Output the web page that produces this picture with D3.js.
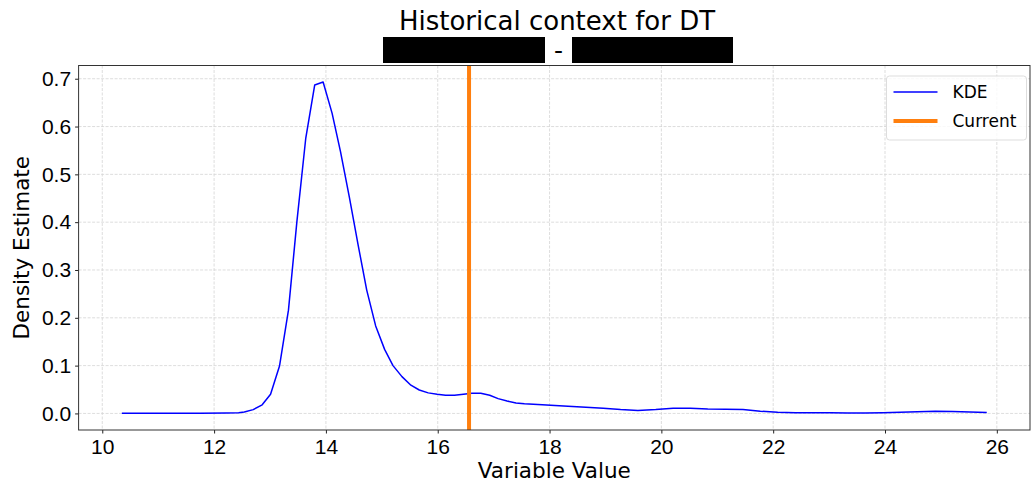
<!DOCTYPE html>
<html>
<head>
<meta charset="utf-8">
<script src="https://cdn.jsdelivr.net/npm/d3@7"></script>
<style>
  body { margin: 0; background: #fff; }
  svg { display: block; font-family: "DejaVu Sans", sans-serif; }
</style>
</head>
<body>
<svg id="chart"></svg>
<script>
// KDE curve
const kdeX = [10.35, 10.82, 11.28, 11.75, 12.22, 12.44, 12.54, 12.70, 12.86, 13.01, 13.17, 13.33, 13.48, 13.64, 13.80, 13.95,
  14.11, 14.26, 14.42, 14.58, 14.73, 14.89, 15.05, 15.20, 15.36, 15.52, 15.67, 15.83, 15.99, 16.14, 16.30, 16.46,
  16.61, 16.77, 16.93, 17.08, 17.24, 17.40, 17.55, 17.71, 17.87, 18.02, 18.33, 18.65, 18.96, 19.27, 19.58, 19.90,
  20.21, 20.52, 20.83, 21.15, 21.46, 21.77, 22.08, 22.40, 22.71, 23.02, 23.33, 23.65, 23.96, 24.27, 24.58, 24.90,
  25.21, 25.52, 25.82];
const kdeY = [0.0005, 0.0003, 0.0003, 0.0004, 0.0008, 0.0012, 0.003, 0.008, 0.018, 0.040, 0.099, 0.216, 0.400, 0.576, 0.687, 0.693,
  0.628, 0.548, 0.452, 0.350, 0.258, 0.183, 0.134, 0.100, 0.077, 0.059, 0.049, 0.043, 0.040, 0.038, 0.038, 0.040,
  0.042, 0.042, 0.038, 0.031, 0.026, 0.022, 0.020, 0.019, 0.018, 0.017, 0.015, 0.013, 0.011, 0.008, 0.006, 0.008,
  0.011, 0.011, 0.0095, 0.009, 0.008, 0.0045, 0.0025, 0.0014, 0.0012, 0.0012, 0.0011, 0.0010, 0.0014, 0.0024, 0.0036, 0.0048,
  0.0042, 0.0032, 0.0022];
const currentValue = 16.56;
const xTicks = [10, 12, 14, 16, 18, 20, 22, 24, 26];
const yTicks = [0.0, 0.1, 0.2, 0.3, 0.4, 0.5, 0.6, 0.7];
const legendLabels = ["KDE", "Current"];

const W = 1031, H = 484;
const margin = {top: 65.5, right: 1, bottom: 54, left: 78.6};
const width = W - margin.left - margin.right,
    height = H - margin.top - margin.bottom;

const svg = d3.select("#chart").attr("width", W).attr("height", H);
const g = svg.append("g").attr("transform", `translate(${margin.left},${margin.top})`);

// matplotlib-style 5% padding around the data
const xPad = (d3.max(kdeX) - d3.min(kdeX)) * 0.05;
const yPad = d3.max(kdeY) * 0.05;
const x = d3.scaleLinear().domain([d3.min(kdeX) - xPad, d3.max(kdeX) + xPad]).range([0, width]);
const y = d3.scaleLinear().domain([-yPad, d3.max(kdeY) + yPad]).range([height, 0]);

// grid
g.append("g").selectAll("line").data(xTicks).enter().append("line")
    .attr("x1", d => x(d)).attr("x2", d => x(d)).attr("y1", 0).attr("y2", height)
    .attr("stroke", "#d4d4d4").attr("stroke-width", 0.8).attr("stroke-dasharray", "3,1.5");
g.append("g").selectAll("line").data(yTicks).enter().append("line")
    .attr("y1", d => y(d)).attr("y2", d => y(d)).attr("x1", 0).attr("x2", width)
    .attr("stroke", "#d4d4d4").attr("stroke-width", 0.8).attr("stroke-dasharray", "3,1.5");

// axes
const xAxis = g.append("g").attr("transform", `translate(0,${height})`)
    .call(d3.axisBottom(x).tickValues(xTicks).tickSizeOuter(0).tickSize(3.5).tickPadding(6).tickFormat(d3.format("d")));
const yAxis = g.append("g")
    .call(d3.axisLeft(y).tickValues(yTicks).tickSizeOuter(0).tickSize(3.5).tickPadding(4).tickFormat(d3.format(".1f")));
[xAxis, yAxis].forEach(a => {
  a.select(".domain").remove();
  a.selectAll("text").style("font-size", "21px").attr("fill", "#000");
  a.selectAll("line").attr("stroke", "#222");
});

// curve
g.append("path")
    .datum(kdeX.map((d, i) => [d, kdeY[i]]))
    .attr("fill", "none")
    .attr("stroke", "#0000ff")
    .attr("stroke-width", 1.5)
    .attr("stroke-linejoin", "round")
    .attr("d", d3.line().x(d => x(d[0])).y(d => y(d[1])));

// current value
g.append("line")
    .attr("x1", x(currentValue)).attr("x2", x(currentValue))
    .attr("y1", 0).attr("y2", height)
    .attr("stroke", "#ff7f0e").attr("stroke-width", 4);

// frame
g.append("rect").attr("width", width).attr("height", height)
    .attr("fill", "none").attr("stroke", "#333").attr("stroke-width", 1);

// legend
const leg = svg.append("g").attr("transform", "translate(886.5,76)");
leg.append("rect").attr("width", 140).attr("height", 64).attr("rx", 3)
    .attr("fill", "#fff").attr("fill-opacity", 0.8).attr("stroke", "#ddd");
const legColors = ["#0000ff", "#ff7f0e"], legWidths = [1.5, 4];
legendLabels.forEach((lab, i) => {
  const yy = 16 + i * 29;
  leg.append("line").attr("x1", 7).attr("x2", 51).attr("y1", yy).attr("y2", yy)
      .attr("stroke", legColors[i]).attr("stroke-width", legWidths[i]);
  leg.append("text").attr("x", 66).attr("y", yy + 6).style("font-size", "17px").text(lab);
});

// title + redacted subtitle
svg.append("text").attr("x", 557).attr("y", 30).attr("text-anchor", "middle")
    .style("font-size", "26px").text("Historical context for DT");
svg.append("rect").attr("x", 383).attr("y", 37).attr("width", 162).attr("height", 26).attr("fill", "#000");
svg.append("rect").attr("x", 572).attr("y", 37).attr("width", 161).attr("height", 26).attr("fill", "#000");
svg.append("text").attr("x", 558.5).attr("y", 59).attr("text-anchor", "middle")
    .style("font-size", "25px").text("-");

// axis labels
svg.append("text").attr("x", margin.left + width / 2).attr("y", 478).attr("text-anchor", "middle")
    .style("font-size", "21.5px").text("Variable Value");
svg.append("text").attr("transform", `translate(29,${margin.top + height / 2}) rotate(-90)`)
    .attr("text-anchor", "middle").style("font-size", "21.5px").text("Density Estimate");
</script>
</body>
</html>
